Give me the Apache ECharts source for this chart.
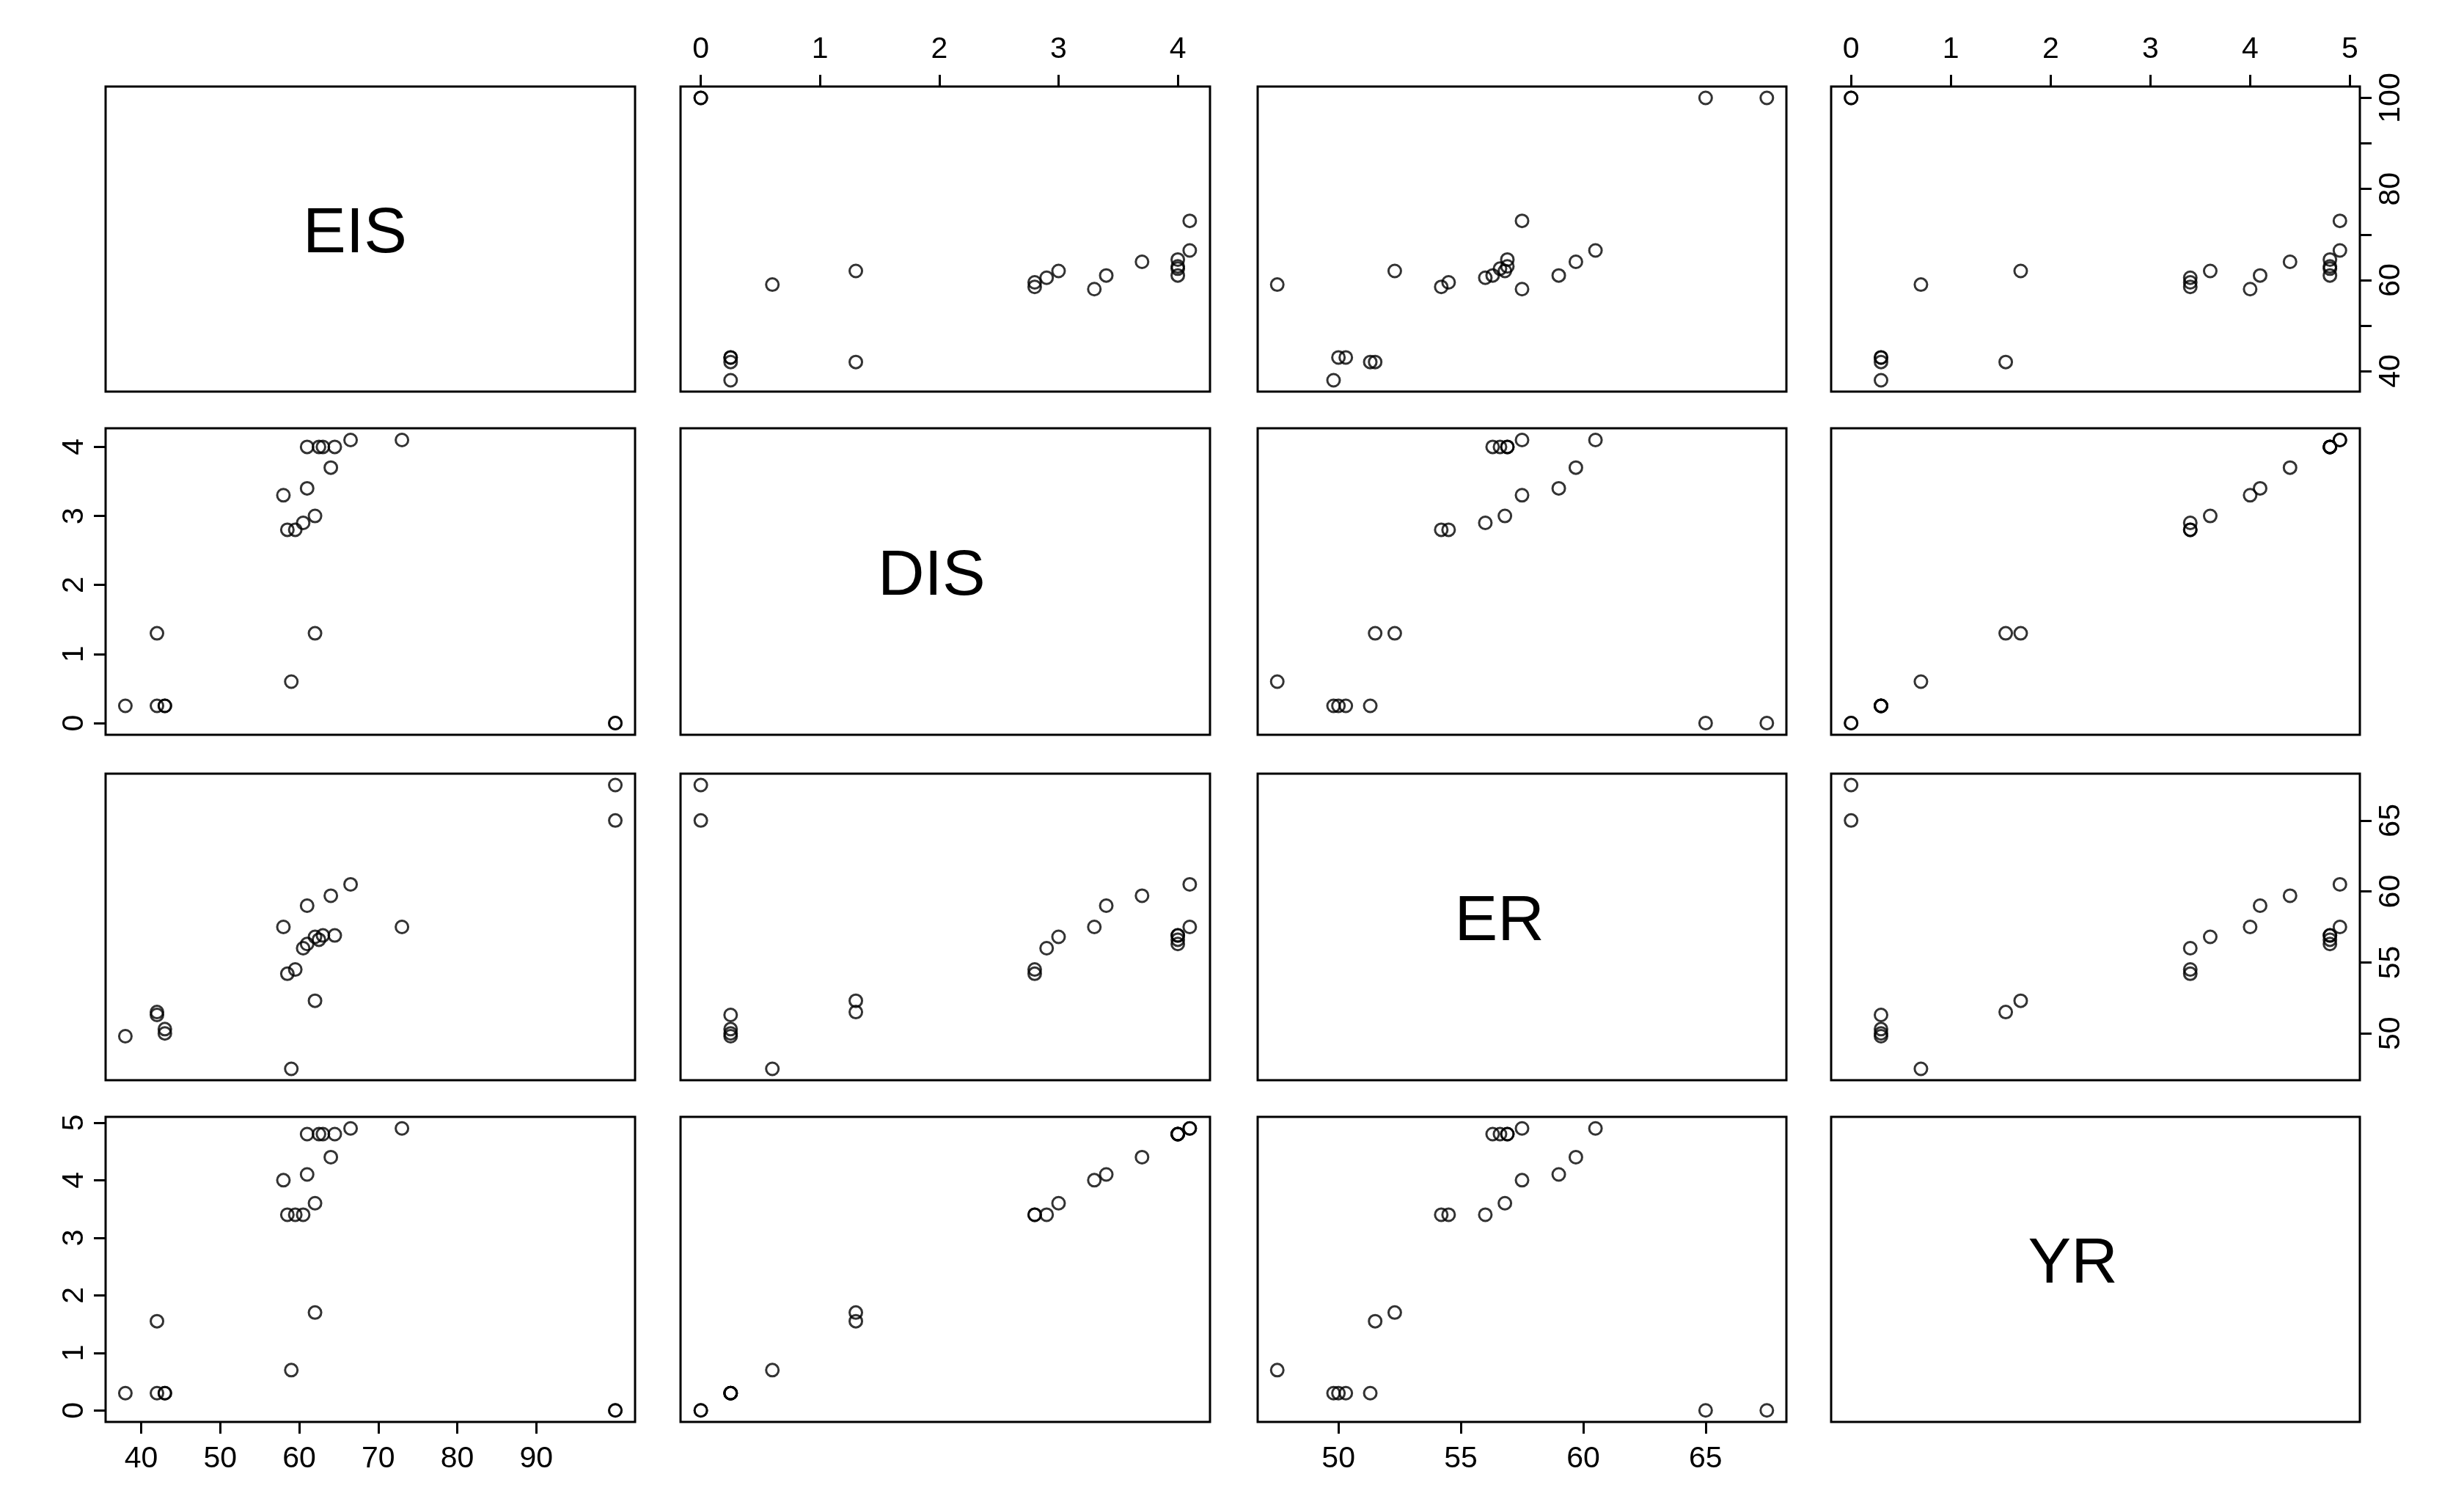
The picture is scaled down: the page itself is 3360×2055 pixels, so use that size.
<!DOCTYPE html>
<html><head><meta charset="utf-8">
<script src="https://cdn.jsdelivr.net/npm/echarts@6/dist/echarts.min.js"></script>
<style>html,body{margin:0;background:#fff}#c{width:3360px;height:2055px}</style>
</head><body><div id="c"></div>
<script>
const varNames = ['EIS','DIS','ER','YR'];
const EIS = [100,100,38,42,43,43,59,42,62,58.5,59.5,60.5,62,58,61,64,61,62.5,63,64.5,66.5,73];
const DIS = [0,0,0.25,0.25,0.25,0.25,0.6,1.3,1.3,2.8,2.8,2.9,3.0,3.3,3.4,3.7,4.0,4.0,4.0,4.0,4.1,4.1];
const ER  = [65,67.5,49.8,51.3,50.3,50.0,47.5,51.5,52.3,54.2,54.5,56,56.8,57.5,59,59.7,56.3,56.6,56.9,56.9,60.5,57.5];
const YR  = [0,0,0.3,0.3,0.3,0.3,0.7,1.55,1.7,3.4,3.4,3.4,3.6,4.0,4.1,4.4,4.8,4.8,4.8,4.8,4.9,4.9];
const ranges = [[35.5,102.5],[-0.17,4.27],[46.7,68.3],[-0.2,5.1]];
const ticksX = [[40,50,60,70,80,90],[0,1,2,3,4],[50,55,60,65],[0,1,2,3,4,5]];
const ticksY = [[40,50,60,70,80,90,100],[0,1,2,3,4],[50,55,60,65],[0,1,2,3,4,5]];
const labelsY = [[40,60,80,100],[0,1,2,3,4],[50,55,60,65],[0,1,2,3,4,5]];
const vals = [EIS,DIS,ER,YR];

const colX = [[144,866],[928,1650],[1715,2436],[2497,3218]];
const rowY = [[118,534],[584,1002],[1055,1473],[1523,1939]];
const grids=[],xAxes=[],yAxes=[],series=[],graphics=[];
const font = {fontFamily:'Liberation Sans, Arial',fontSize:41,color:'#000'};
for(let r=0;r<4;r++)for(let c=0;c<4;c++){
  const g=r*4+c;
  grids.push({left:colX[c][0],width:colX[c][1]-colX[c][0],top:rowY[r][0],height:rowY[r][1]-rowY[r][0],show:true,borderColor:'#000',borderWidth:3,backgroundColor:'transparent'});
  const xPos = (c%2===0)?'bottom':'top';
  const showX = (c%2===0)? r===3 : r===0;
  const yPos = (r%2===0)?'right':'left';
  const showY = (r%2===0)? c===3 : c===0;
  xAxes.push({type:'value',gridIndex:g,min:ranges[c][0],max:ranges[c][1],position:xPos,
    axisLine:{show:false,onZero:false},splitLine:{show:false},
    axisTick:{show:showX,length:16,lineStyle:{color:'#000',width:3},customValues:ticksX[c]},
    axisLabel:{show:showX,margin:30,...font,customValues:ticksX[c]}});
  yAxes.push({type:'value',gridIndex:g,min:ranges[r][0],max:ranges[r][1],position:yPos,
    axisLine:{show:false,onZero:false},splitLine:{show:false},
    axisTick:{show:showY,length:16,lineStyle:{color:'#000',width:3},customValues:ticksY[r]},
    axisLabel:{show:showY,margin:22,rotate:90,...font,customValues:labelsY[r]}});
  if(r===c){
    graphics.push({type:'text',left:(colX[c][0]+colX[c][1])/2-92,top:(rowY[r][0]+rowY[r][1])/2-50,
      style:{text:varNames[r],font:'88px Liberation Sans, Arial',fill:'#000'}});
  } else {
    series.push({type:'scatter',xAxisIndex:g,yAxisIndex:g,symbol:'circle',symbolSize:17,
      itemStyle:{color:'transparent',borderColor:'#000',borderWidth:3},
      data:vals[c].map((v,i)=>[v,vals[r][i]]),animation:false,silent:true});
  }
}
echarts.init(document.getElementById('c')).setOption({animation:false,grid:grids,xAxis:xAxes,yAxis:yAxes,series,graphic:graphics});
</script></body></html>
